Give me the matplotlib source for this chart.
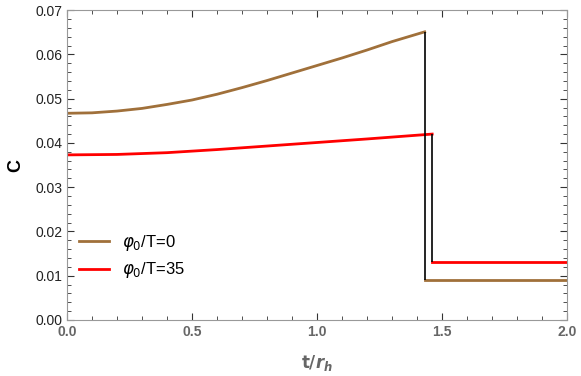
import matplotlib.pyplot as plt
import numpy as np

# 读出的数据
t_brown = [0.0, 0.1, 0.2, 0.3, 0.4, 0.5, 0.6, 0.7, 0.8, 0.9, 1.0, 1.1, 1.2, 1.3, 1.43]
c_brown = [0.0467, 0.0468, 0.0472, 0.0478, 0.0487, 0.0497, 0.0510, 0.0525, 0.0541,
           0.0558, 0.0575, 0.0592, 0.0610, 0.0629, 0.0651]
t_red = [0.0, 0.2, 0.4, 0.6, 0.8, 1.0, 1.2, 1.46]
c_red = [0.0373, 0.0374, 0.0378, 0.0385, 0.0393, 0.0401, 0.0409, 0.0420]
# 跳变之后
t_brown_after = [1.43, 2.0]
c_brown_after = [0.009, 0.009]
t_red_after = [1.46, 2.0]
c_red_after = [0.013, 0.013]

labels = [r'$\varphi_0$/T=0', r'$\varphi_0$/T=35']
brown = '#a0703a'
red = '#ff0000'

plt.rcParams['font.family'] = ['Liberation Sans', 'DejaVu Sans']
plt.rcParams['mathtext.fontset'] = 'dejavusans'

fig = plt.figure(figsize=(5.81, 3.76), dpi=100)
ax = fig.add_axes([0.1153, 0.149, 0.861, 0.824])

ax.plot(t_brown, c_brown, color=brown, lw=2, label=labels[0])
ax.plot(t_red, c_red, color=red, lw=2, label=labels[1])
ax.plot(t_brown_after, c_brown_after, color=brown, lw=2)
ax.plot(t_red_after, c_red_after, color=red, lw=2)
# 竖直跳变线
ax.vlines(t_brown_after[0], c_brown_after[0], c_brown[-1], color='black', lw=1.2)
ax.vlines(t_red_after[0], c_red_after[0], c_red[-1], color='black', lw=1.2)

ax.set_xlim(0, 2)
ax.set_ylim(0, 0.07)
ax.set_xticks(np.arange(0, 2.01, 0.5))
ax.set_xticks(np.arange(0, 2.01, 0.1), minor=True)
ax.set_yticks(np.arange(0, 0.0701, 0.01))
ax.set_yticks(np.arange(0, 0.0701, 0.002), minor=True)
ax.set_xticklabels(['0.0', '0.5', '1.0', '1.5', '2.0'], fontweight='bold', color='#666666')
ax.set_yticklabels(['%.2f' % v for v in np.arange(0, 0.0701, 0.01)], color='#222222')

ax.tick_params(which='both', direction='in', top=True, right=True, labelsize=10)
ax.tick_params(which='major', length=5, width=0.8, color='#333333')
ax.tick_params(which='minor', length=3, width=0.6, color='#333333')
for s in ax.spines.values():
    s.set_color('#999999')

ax.set_xlabel(r'$\mathbf{t/}\mathbfit{r}_\mathbfit{h}$', fontsize=12, color='#666666', labelpad=10)
ax.set_ylabel('C', fontsize=13, fontweight='bold', labelpad=8)

ax.legend(loc='lower left', bbox_to_anchor=(0.0, 0.09), frameon=False, fontsize=12,
          handlelength=1.8, labelspacing=0.45, borderaxespad=0.3)

fig.savefig('out.png')
